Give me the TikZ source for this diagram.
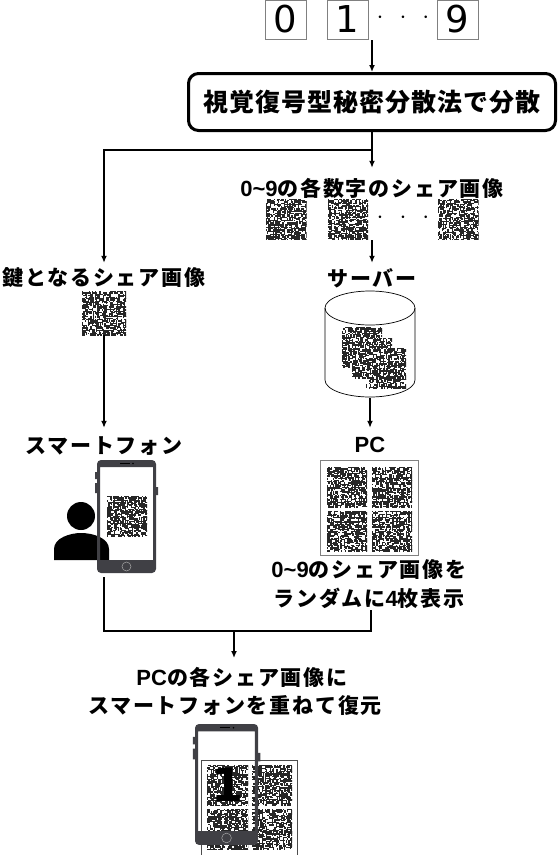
\documentclass[tikz,border=0pt]{standalone}
\usepackage{fontspec}
\usepackage{tikz}
\usetikzlibrary{arrows.meta, positioning, shapes.geometric}
\newfontfamily\jpfont[LetterSpace=8.5]{Noto Sans CJK JP}
\newfontfamily\titlefont[LetterSpace=4]{Noto Sans CJK JP}
\newfontfamily\latfont{Liberation Sans}
\newfontfamily\digitfont{DejaVu Sans}
\newcommand{\numlat}[1]{{\latfont\fontsize{22}{24}\selectfont #1}}
\definecolor{phonegray}{HTML}{404045}
% random black cells, clipped by the node that calls it
\newcommand{\noisecells}{%
  \path (path picture bounding box.north west) coordinate (nw);
  \foreach \i in {0,...,31}{\foreach \j in {0,...,31}{
    \pgfmathrandominteger{\cellkind}{0}{6}
    \ifnum\cellkind<2 \fill[black!85] ([shift={(\i*1.4,\j*1.4)}]nw) rectangle ++(1.4,1.4);\fi
    \ifnum\cellkind=2 \fill[black!85] ([shift={(\i*1.4,\j*1.4)}]nw) rectangle ++(3.2,1.2);\fi
    \ifnum\cellkind=3 \fill[black!85] ([shift={(\i*1.4,\j*1.4)}]nw) rectangle ++(1.2,3.2);\fi
  }}%
}
\tikzset{
  lbl/.style={font=\jpfont\bfseries\fontsize{21}{24}\selectfont, inner sep=0pt, minimum height=30},
  link/.style={line width=1.4pt},
  flow/.style={link, -{Latex[length=7pt,width=6pt]}},
  digitbox/.style={draw=gray, line width=0.8pt, minimum width=41, minimum height=39, inner sep=0pt,
    font=\digitfont\fontsize{37}{37}\selectfont},
  dotrow/.style={font=\bfseries\fontsize{24}{24}\selectfont, inner sep=0pt},
  sharebox/.style={minimum size=#1, inner sep=0pt, fill=white, path picture={\noisecells}},
  sharebox/.default=40,
  phone/.pic={
    \fill[phonegray, even odd rule] [rounded corners=4] (0,0) rectangle (59,113) [sharp corners] (3,7) rectangle (56,100);
    \fill[phonegray] (-2,12) rectangle (0,19) (-2,23) rectangle (0,33) (59,27) rectangle (61,35);
    \draw[black, line width=0.8pt] (23,3.5) -- (33,3.5);
    \fill[black] (36,3.5) circle (0.8);
    \draw[gray!70, line width=0.5pt] (29.5,106.5) circle (4.5);
  }
}
\begin{document}
\begin{tikzpicture}[x=1pt, y=-1pt]
  \useasboundingbox (0,0) rectangle (560,855);
  \pgfmathsetseed{4217}
  % Digits
  \node[digitbox] (digit0) at (285.5,19.5) {0};
  \node[digitbox] (digit1) at (347.5,19.5) {1};
  \node[digitbox] (digit9) at (457.5,19.5) {9};
  \node[dotrow] (digitdots) at (403,18) {$\cdot$\hspace{16pt}$\cdot$\hspace{16pt}$\cdot$};
  \coordinate (digitout) at (372,40);
  % Splitting step
  \node[draw, line width=3pt, rounded corners=10pt, minimum width=367, minimum height=57, inner sep=0pt,
    font=\titlefont\bfseries\fontsize{25}{28}\selectfont] (splitbox) at (372,102) {視覚復号型秘密分散法で分散};
  \coordinate (splitpoint) at (372,150);
  % Share images of the digits
  \node[lbl, minimum height=40] (sharelabel) at (372,188) {\numlat{0\textasciitilde 9}の各数字のシェア画像};
  \node[sharebox=41] (share0) at (286,219) {};
  \node[sharebox=40] (share1) at (348,219) {};
  \node[sharebox=41] (share9) at (458,219) {};
  \node[dotrow] (sharedots) at (403,218) {$\cdot$\hspace{16pt}$\cdot$\hspace{16pt}$\cdot$};
  \coordinate (shareout) at (372,240);
  % Server
  \node[lbl] (serverlabel) at (372,278) {サーバー};
  \draw[line width=0.7pt] (325,308) -- (325,380) arc[start angle=180, end angle=0, x radius=45, y radius=17] -- (415,308);
  \draw[line width=0.7pt] (370,308) ellipse (45 and 17);
  \node[minimum width=90, minimum height=107, inner sep=0pt] (server) at (370,344.5) {};
  \node[sharebox=40] (stored0) at (362,347) {};
  \node[sharebox=40] (stored1) at (372,358) {};
  \node[sharebox=40] (stored2) at (386,368) {};
  % Key share
  \node[lbl] (keylabel) at (104,278) {鍵となるシェア画像};
  \node[sharebox=44] (keyshare) at (104,313) {};
  % Smartphone and user
  \node[lbl, minimum height=36] (phonelabel) at (104,446) {スマートフォン};
  \fill[black] (81,516) circle (14);
  \fill[black] (54,560) -- (54,549) .. controls (54,538) and (70,533) .. (81,533) .. controls (93,533) and (109,538) .. (109,549) -- (109,560) -- cycle;
  \node[sharebox=40] (phoneshare) at (127,516) {};
  \pic at (97,460) {phone};
  \coordinate (phoneout) at (104,577);
  % PC
  \node[lbl, minimum height=34] (pclabel) at (370,445) {\numlat{PC}};
  \node[draw=gray, line width=0.8pt, minimum width=98, minimum height=95, inner sep=0pt] (pcframe) at (369,507.5) {};
  \node[sharebox=40] (pcshare0) at (347,487) {};
  \node[sharebox=40] (pcshare1) at (392,487) {};
  \node[sharebox=40] (pcshare2) at (347,531) {};
  \node[sharebox=40] (pcshare3) at (392,531) {};
  \node[lbl] (pctext0) at (369,570) {\numlat{0\textasciitilde 9}のシェア画像を};
  \node[lbl] (pctext1) at (369,598) {ランダムに\numlat{4}枚表示};
  \coordinate (pcout) at (371,610);
  % Restoring
  \coordinate (joinpoint) at (234,631);
  \coordinate (restorein) at (234,658);
  \node[lbl] (restore0) at (242,677) {\numlat{PC}の各シェア画像に};
  \node[lbl] (restore1) at (235,706) {スマートフォンを重ねて復元};
  \node[draw=black!70, line width=0.8pt, minimum width=96, minimum height=95, inner sep=0pt] (restoreframe) at (249,807.5) {};
  \node[sharebox=41] (restshare0) at (227.5,785) {};
  \node[sharebox=40] (restshare1) at (272,785) {};
  \node[sharebox=41] (restshare2) at (227.5,829) {};
  \node[sharebox=40] (restshare3) at (272,829) {};
  \node[font=\digitfont\fontsize{46}{46}\selectfont, inner sep=0pt] (restoredigit) at (228,785) {\textbf{1}};
  \pic[scale=1.07] at (195,724) {phone};
  % Connectors
  \draw[flow] (digitout) -- (splitbox.north);
  \draw[flow] (splitbox.south) -- (sharelabel.north);
  \draw[flow] (splitpoint) -| (keylabel.north);
  \draw[flow] (shareout) -- (serverlabel.north);
  \draw[flow] (keyshare.south) -- (phonelabel.north);
  \draw[flow] (server.south) -- (pclabel.north);
  \draw[link] (phoneout) |- (joinpoint);
  \draw[link] (pcout) |- (joinpoint);
  \draw[flow] (joinpoint) -- (restorein);
\end{tikzpicture}
\end{document}
